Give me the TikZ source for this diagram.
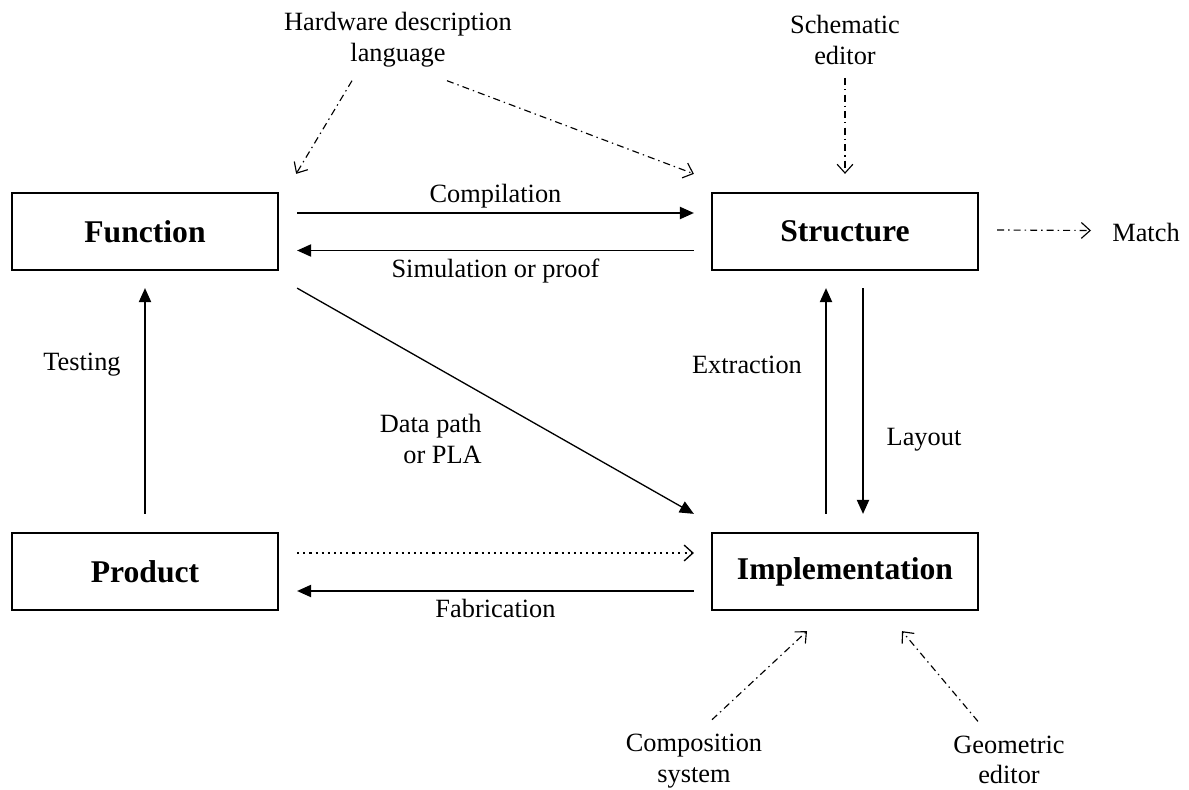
\documentclass[tikz,border=0pt]{standalone}
\usepackage{fontspec}
\setmainfont{Liberation Serif}
\usetikzlibrary{arrows.meta,calc}
\begin{document}
\begin{tikzpicture}[x=0.02cm,y=-0.02cm,
  box/.style={draw,line width=1.3pt,minimum width=5.32cm,minimum height=1.54cm,inner sep=0pt,font=\fontsize{18}{20}\selectfont\bfseries},
  lbl/.style={inner sep=0pt,align=center,font=\fontsize{15}{17.5}\selectfont},
  arr/.style={line width=0.75pt,-{Triangle[length=8pt,width=7pt]}},
  dd/.style={line width=0.65pt,dash pattern=on 4pt off 2.3pt on 0.8pt off 2.3pt,-{Straight Barb[length=5pt,width=9pt]}},
  dt/.style={line width=0.75pt,dash pattern=on 1.2pt off 2.3pt,-{Straight Barb[length=5pt,width=9pt]}}]
\useasboundingbox (0,0) rectangle (1189,790);
% boxes
\node[box] (fn) at (145,231.5) {Function};
\node[box] (st) at (845,231.5) {Structure};
\node[box] (pr) at (145,571.5) {Product};
\node[box] (im) at (845,571.5) {Implementation};
% text nodes
\node[lbl] (hdl) at (398,40) {Hardware description\\language};
\node[lbl] (se) at (845,40) {Schematic\\editor};
\node[lbl] (match) at (1146,232) {Match};
\node[lbl] (cs) at (694,761) {Composition\\system};
\node[lbl] (ge) at (1009,760) {Geometric\\editor};
% solid arrows
\draw[arr] ($(fn.east)+(18,-18.5)$) -- node[lbl,above=2.4pt] {Compilation} ($(st.west)+(-17,-18.5)$);
\draw[arr] ($(st.west)+(-17,19)$) -- node[lbl,below=4.5pt] {Simulation or proof} ($(fn.east)+(18,19)$);
\draw[arr] ($(fn.south east)+(18,17)$) -- ($(im.north west)+(-17,-18)$);
\node[lbl,align=right,anchor=east] at (482,439) {Data path\\or PLA};
\draw[arr] ($(pr.north)+(0,-18)$) -- ($(fn.south)+(0,17)$);
\node[lbl] at (82,365) {Testing};
\draw[arr] ($(im.north)+(-19,-18)$) -- ($(st.south)+(-19,17)$);
\node[lbl] at (747,365) {Extraction};
\draw[arr] ($(st.south)+(18,17)$) -- ($(im.north)+(18,-18)$);
\node[lbl] at (924,440) {Layout};
\draw[dt] ($(pr.east)+(18,-18.5)$) -- ($(im.west)+(-17,-18.5)$);
\draw[arr] ($(im.west)+(-17,19.5)$) -- node[lbl,below=4.5pt] {Fabrication} ($(pr.east)+(18,19.5)$);
% dash-dot arrows
\draw[dd] ($(hdl.south)+(-46,13)$) -- ($(fn.north east)+(17,-18)$);
\draw[dd] ($(hdl.south)+(49,13)$) -- ($(st.north west)+(-17,-18)$);
\draw[dd] ($(se.south)+(0,13)$) -- ($(st.north)+(0,-18)$);
\draw[dd] ($(st.east)+(18,-1.5)$) -- ($(match.west)+(-21,-1.5)$);
\draw[dd] ($(cs.north)+(18,-14)$) -- ($(im.south)+(-38,20)$);
\draw[dd] ($(ge.north)+(-31,-14)$) -- ($(im.south)+(57,20)$);
\end{tikzpicture}
\end{document}
